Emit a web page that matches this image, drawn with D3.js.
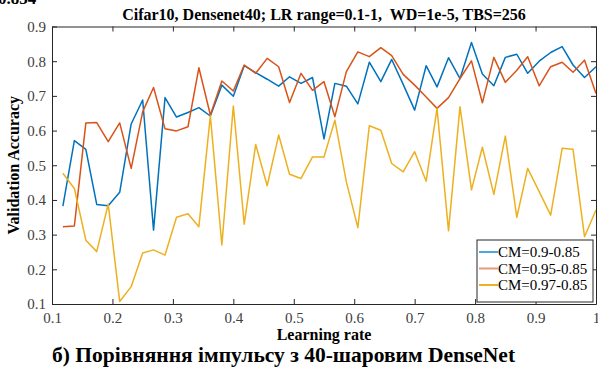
<!DOCTYPE html>
<html><head><meta charset="utf-8">
<script src="https://cdn.jsdelivr.net/npm/d3@7"></script>
<style>body{margin:0;background:#fff;}svg{display:block;}</style>
</head><body>
<script>
const lrs = [0.118,0.137,0.156,0.174,0.193,0.212,0.231,0.250,0.268,0.287,0.306,0.325,0.343,0.362,0.381,0.400,0.418,0.437,0.456,0.475,0.493,0.512,0.531,0.550,0.568,0.587,0.606,0.625,0.644,0.662,0.681,0.700,0.719,0.737,0.756,0.775,0.794,0.812,0.831,0.850,0.869,0.887,0.906,0.925,0.944,0.962,0.981,1.000];
const cm090 = [0.382,0.571,0.546,0.387,0.383,0.422,0.619,0.688,0.313,0.695,0.639,0.652,0.666,0.642,0.731,0.699,0.787,0.767,0.748,0.728,0.755,0.736,0.753,0.576,0.736,0.728,0.677,0.797,0.741,0.805,0.733,0.659,0.787,0.726,0.810,0.750,0.854,0.763,0.729,0.811,0.820,0.765,0.800,0.825,0.842,0.789,0.753,0.784];
const cm095 = [0.323,0.325,0.622,0.623,0.568,0.622,0.491,0.654,0.724,0.605,0.599,0.611,0.781,0.645,0.743,0.714,0.789,0.765,0.808,0.784,0.681,0.765,0.716,0.741,0.640,0.770,0.827,0.813,0.839,0.816,0.762,0.731,0.697,0.664,0.695,0.750,0.801,0.680,0.811,0.739,0.774,0.813,0.729,0.784,0.797,0.768,0.803,0.707];
const cm097 = [0.477,0.433,0.284,0.251,0.388,0.107,0.150,0.247,0.256,0.241,0.350,0.360,0.323,0.643,0.270,0.671,0.330,0.560,0.441,0.587,0.474,0.462,0.524,0.524,0.630,0.452,0.320,0.614,0.601,0.505,0.481,0.539,0.454,0.664,0.311,0.669,0.429,0.552,0.416,0.584,0.350,0.491,0.424,0.356,0.549,0.546,0.294,0.371];
const seriesNames = ["CM=0.9-0.85","CM=0.95-0.85","CM=0.97-0.85"];
const xTicks = [0.1,0.2,0.3,0.4,0.5,0.6,0.7,0.8,0.9,1];
const xTickLabels = ["0.1","0.2","0.3","0.4","0.5","0.6","0.7","0.8","0.9","1"];
const yTicks = [0.1,0.2,0.3,0.4,0.5,0.6,0.7,0.8,0.9];
const yTickLabels = ["0.1","0.2","0.3","0.4","0.5","0.6","0.7","0.8","0.9"];

const colors = ["#0072BD","#D95319","#EDB120"];
const legendColors = ["#4da6e0","#e89a7c","#EDB120"];
const W=598,H=367;
const m={l:52,r:2,t:26.5,b:63};
const svg=d3.select("body").append("svg").attr("width",W).attr("height",H);
const x=d3.scaleLinear().domain([0.1,1]).range([m.l,W-m.r]);
const y=d3.scaleLinear().domain([0.1,0.9]).range([H-m.b,m.t]);
const serif="'Liberation Serif','Times New Roman',serif";
const axisCol="#262626";

// clipped top text remnant
svg.append("text").attr("x",-2).attr("y",4).attr("font-family",serif).attr("font-weight","bold").attr("font-size",17).attr("fill","#000").text("0.854");

// lines
const data=[cm090,cm095,cm097];
const line=d3.line().x((d,i)=>x(lrs[i])).y(d=>y(d));
const g=svg.append("g");
data.forEach((s,k)=>{
  g.append("path").datum(s).attr("d",line).attr("fill","none").attr("stroke",colors[k]).attr("stroke-width",1.5).attr("stroke-linejoin","round");
});

// axes
const ax=svg.append("g");
const tl=5;
const bx=d3.axisBottom(x).tickValues(xTicks).tickFormat((d,i)=>xTickLabels[i]).tickSizeInner(-tl).tickSizeOuter(0).tickPadding(8);
const gb=ax.append("g").attr("transform",`translate(0,${y(0.1)})`).call(bx);
const tx=d3.axisTop(x).tickValues(xTicks).tickFormat("").tickSizeInner(-tl).tickSizeOuter(0);
const gt=ax.append("g").attr("transform",`translate(0,${y(0.9)})`).call(tx);
const ly=d3.axisLeft(y).tickValues(yTicks).tickFormat((d,i)=>yTickLabels[i]).tickSizeInner(-tl).tickSizeOuter(0).tickPadding(6);
const gl=ax.append("g").attr("transform",`translate(${x(0.1)},0)`).call(ly);
const ry=d3.axisRight(y).tickValues(yTicks).tickFormat("").tickSizeInner(-tl).tickSizeOuter(0);
const gr=ax.append("g").attr("transform",`translate(${x(1)},0)`).call(ry);
[gb,gt,gl,gr].forEach(a=>{
  a.selectAll("path").attr("stroke",axisCol).attr("stroke-width",1);
  a.selectAll("line").attr("stroke",axisCol).attr("stroke-width",1);
  a.selectAll("text").attr("font-family",serif).attr("font-size",15).attr("fill","#404040");
});

// title
svg.append("text").attr("x",(x(0.1)+x(1))/2).attr("y",20).attr("text-anchor","middle").attr("font-family",serif).attr("font-weight","bold").attr("font-size",16).attr("fill","#000").style("white-space","pre").text("Cifar10, Densenet40; LR range=0.1-1,  WD=1e-5, TBS=256");
// x label
svg.append("text").attr("x",(x(0.1)+x(1))/2).attr("y",340).attr("text-anchor","middle").attr("font-family",serif).attr("font-weight","bold").attr("font-size",16).attr("fill","#000").text("Learning rate");
// y label
svg.append("text").attr("transform",`translate(19,${(y(0.1)+y(0.9))/2}) rotate(-90)`).attr("text-anchor","middle").attr("font-family",serif).attr("font-weight","bold").attr("font-size",16).attr("fill","#000").text("Validation Accuracy");
// caption
svg.append("text").attr("x",52).attr("y",362).attr("font-family",serif).attr("font-weight","bold").attr("font-size",21.5).attr("fill","#000").text("б) Порівняння імпульсу з 40-шаровим DenseNet");

// legend
const lg=svg.append("g").attr("transform","translate(477,240)");
lg.append("rect").attr("width",116).attr("height",62).attr("fill","#fff").attr("stroke",axisCol).attr("stroke-width",1);
seriesNames.forEach((n,k)=>{
  const yy=12+k*16.5;
  lg.append("line").attr("x1",2).attr("x2",21).attr("y1",yy).attr("y2",yy).attr("stroke",legendColors[k]).attr("stroke-width",2);
  lg.append("text").attr("x",21).attr("y",yy+5).attr("font-family",serif).attr("font-size",15).attr("fill","#000").text(n);
});
</script>
</body></html>
